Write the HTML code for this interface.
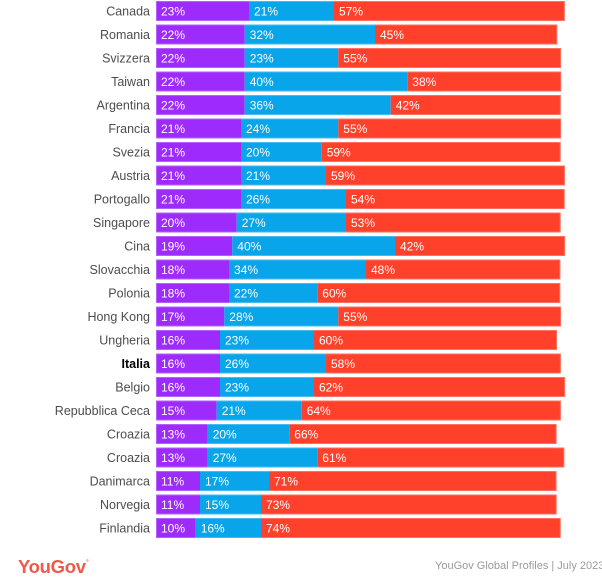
<!DOCTYPE html>
<html>
<head>
<meta charset="utf-8">
<style>
  html,body{margin:0;padding:0;background:#fff;}
  body{width:602px;height:586px;overflow:hidden;position:relative;}
  svg{position:absolute;left:0;top:0;}
  .lab{font-family:"Liberation Sans",sans-serif;font-size:12.5px;fill:#4d4d4d;}
  .val{font-family:"Liberation Sans",sans-serif;font-size:12px;fill:#fff;}
</style>
</head>
<body>
<svg width="602" height="586" viewBox="0 0 602 586" xmlns="http://www.w3.org/2000/svg">
<g id="rows"></g>
<text x="18" y="573" font-family="Liberation Sans, sans-serif" font-size="18.5" font-weight="bold" fill="#f0584a" letter-spacing="-0.3">YouGov</text>
<text x="86" y="562" font-family="Liberation Sans, sans-serif" font-size="4" fill="#f0584a">®</text>
<text x="435" y="569" font-family="Liberation Sans, sans-serif" font-size="11" fill="#9a9a9a">YouGov Global Profiles | July 2023</text>
</svg>
<script>
const rows=[
["Canada",23,21,57,249,334],
["Romania",22,32,45,244.7,375],
["Svizzera",22,23,55,244.7,338.3],
["Taiwan",22,40,38,244.7,407.3],
["Argentina",22,36,42,244.7,390.7],
["Francia",21,24,55,241,338.3],
["Svezia",21,20,59,241,321.7],
["Austria",21,21,59,241,326],
["Portogallo",21,26,54,241,346],
["Singapore",20,27,53,236.7,346],
["Cina",19,40,42,232.3,395],
["Slovacchia",18,34,48,229,366],
["Polonia",18,22,60,229,317.3],
["Hong Kong",17,28,55,224.3,338.3],
["Ungheria",16,23,60,220,314],
["Italia",16,26,58,220,326],
["Belgio",16,23,62,220,314],
["Repubblica Ceca",15,21,64,216.7,301.7],
["Croazia",13,20,66,207.7,289.3],
["Croazia",13,27,61,207.7,317.3],
["Danimarca",11,17,71,200,269],
["Norvegia",11,15,73,200,261],
["Finlandia",10,16,74,195.7,261]
];
const NS="http://www.w3.org/2000/svg";
const g=document.getElementById("rows");
function el(tag,attrs,txt){const e=document.createElementNS(NS,tag);for(const k in attrs)e.setAttribute(k,attrs[k]);if(txt!==undefined)e.textContent=txt;g.appendChild(e);return e;}
rows.forEach((r,i)=>{
  const top=1+23.5*i, h=20;
  const x0=156, x1=r[4], x2=r[5], x3=r[5]+r[3]*4.05;
  el("rect",{x:x0,y:top,width:x1-x0,height:h,fill:"#9d2bfc"});
  el("rect",{x:x1,y:top,width:x2-x1,height:h,fill:"#08a5ea"});
  el("rect",{x:x2,y:top,width:x3-x2,height:h,fill:"#ff412b"});
  el("rect",{x:x0+0.5,y:top+0.5,width:x3-x0-1,height:h-1,fill:"none",stroke:"rgba(255,255,255,0.25)","stroke-width":1});
  const by=top+14.5;
  const t=el("text",{x:150,y:by,"text-anchor":"end",class:"lab"},r[0]);
  if(r[0]==="Italia"){t.setAttribute("font-weight","bold");t.setAttribute("style","fill:#000");}
  el("text",{x:x0+5,y:by,class:"val"},r[1]+"%");
  el("text",{x:x1+5,y:by,class:"val"},r[2]+"%");
  el("text",{x:x2+5,y:by,class:"val"},r[3]+"%");
});
</script>
</body>
</html>
